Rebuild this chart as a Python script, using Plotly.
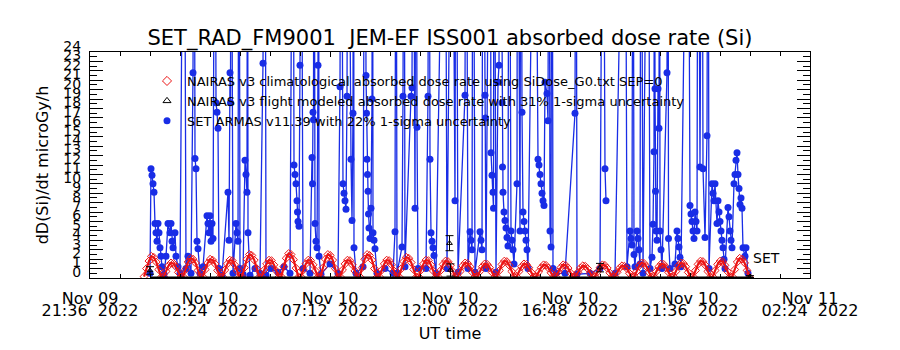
import pandas as pd
import plotly.graph_objects as go

# ---------------- data ----------------
base_time = pd.Timestamp("2022-11-09 21:36")
x_end_hours = 28.8

# NAIRAS v3 climatological dose rate (regular sampling)
clim_start = "2022-11-09 23:45:36"
clim_step_s = 353
nairas_clim = [
    0.15, 1.0, 1.8, 2.3, 2.2, 1.7, 0.9, 0.1,
    0.15, 0.7, 1.3, 1.6, 1.55, 1.2, 0.6, 0.1,
    0.15, 0.9, 1.7, 2.1, 2.0, 1.6, 0.8, 0.1,
    0.15, 0.9, 1.6, 2.0, 1.9, 1.5, 0.8, 0.1,
    0.15, 0.85, 1.5, 1.9, 1.85, 1.4, 0.75, 0.1,
    0.15, 1.1, 2.0, 2.5, 2.4, 1.9, 1.0, 0.1,
    0.15, 0.85, 1.5, 1.9, 1.85, 1.4, 0.75, 0.1,
    0.15, 1.2, 2.1, 2.6, 2.5, 1.95, 1.05, 0.1,
    0.15, 0.85, 1.5, 1.9, 1.85, 1.4, 0.75, 0.1,
    0.15, 1.1, 2.0, 2.5, 2.4, 1.9, 1.0, 0.1,
    0.15, 0.85, 1.5, 1.9, 1.85, 1.4, 0.75, 0.1,
    0.15, 1.1, 2.0, 2.5, 2.4, 1.9, 1.0, 0.1,
    0.15, 0.85, 1.5, 1.9, 1.85, 1.4, 0.75, 0.1,
    0.15, 1.0, 1.75, 2.2, 2.1, 1.65, 0.9, 0.1,
    0.15, 0.85, 1.5, 1.9, 1.85, 1.4, 0.75, 0.1,
    0.15, 0.8, 1.45, 1.8, 1.75, 1.35, 0.7, 0.1,
    0.15, 0.7, 1.3, 1.6, 1.55, 1.2, 0.6, 0.1,
    0.15, 0.7, 1.2, 1.5, 1.45, 1.1, 0.6, 0.1,
    0.15, 0.8, 1.45, 1.8, 1.75, 1.35, 0.7, 0.1,
    0.15, 0.7, 1.2, 1.5, 1.45, 1.1, 0.6, 0.1,
    0.15, 0.65, 1.1, 1.4, 1.35, 1.05, 0.55, 0.1,
    0.15, 0.65, 1.1, 1.4, 1.35, 1.05, 0.55, 0.1,
    0.15, 0.6, 1.05, 1.3, 1.25, 1.0, 0.5, 0.1,
    0.15, 0.65, 1.1, 1.4, 1.35, 1.05, 0.55, 0.1,
    0.15, 0.6, 1.05, 1.3, 1.25, 1.0, 0.5, 0.1,
    0.15, 0.7, 1.3, 1.6, 1.55, 1.2, 0.6, 0.1,
    0.15, 0.7, 1.2, 1.5, 1.45, 1.1, 0.6, 0.1,
    0.15, 0.7, 1.3, 1.6, 1.55, 1.2, 0.6, 0.1,
    0.15, 0.8, 1.45, 1.8, 1.75, 1.35, 0.7, 0.1,
    0.15, 0.8, 1.45, 1.8, 1.75, 1.35, 0.7, 0.1,
    0.15, 0.9, 1.7, 2.1, 2.0, 1.6, 0.8, 0.1,
]

# NAIRAS v3 flight modeled dose rate (hours after base_time)
flight_hours = [2.40, 14.38, 14.42, 20.40, 26.40]
flight_dose = [0.8, 3.7, 0.85, 1.1, 0.15]
flight_err = [0.4, 0.8, 0.65, 0.45, 0.1]
flight_zero_hours = [2.40, 26.40]
flight_zero_dose = [0.0, 0.0]

# SET ARMAS v11.39 measured dose rate (hours after base_time)
set_hours = [
    2.40, 2.44, 2.48, 2.52, 2.56, 2.60, 2.64, 2.68, 2.72, 2.76, 2.80, 2.84, 2.88, 2.96,
    3.04, 3.12, 3.20, 3.24, 3.28, 3.32, 3.40, 3.44, 3.52, 3.60, 3.76, 3.84, 3.92, 4.04,
    4.12, 4.16, 4.20, 4.24, 4.28, 4.32, 4.40, 4.52, 4.68, 4.72, 4.76, 4.80, 4.84, 4.88,
    4.92, 5.00, 5.04, 5.08, 5.12, 5.16, 5.28, 5.52, 5.56, 5.60, 5.62, 5.64, 5.72, 5.84,
    5.88, 5.92, 5.96, 6.00, 6.12, 6.20, 6.24, 6.28, 6.30, 6.32, 6.40, 6.60, 6.80, 6.92,
    7.00, 7.04, 7.24, 7.52, 7.76, 8.00, 8.12, 8.16, 8.20, 8.24, 8.28, 8.30, 8.32, 8.36,
    8.40, 8.44, 8.52, 8.80, 8.88, 8.90, 8.92, 8.94, 8.96, 9.00, 9.04, 9.08, 9.12, 9.14,
    9.16, 9.24, 9.60, 9.92, 10.00, 10.04, 10.12, 10.16, 10.20, 10.24, 10.28, 10.32, 10.44, 10.48,
    10.52, 10.54, 10.56, 10.64, 10.92, 11.00, 11.04, 11.06, 11.08, 11.10, 11.12, 11.14, 11.16, 11.20,
    11.24, 11.28, 11.30, 11.32, 11.36, 11.40, 11.48, 11.80, 12.12, 12.20, 12.24, 12.28, 12.48, 12.52,
    12.56, 12.60, 12.84, 12.88, 12.92, 13.00, 13.04, 13.08, 13.12, 13.44, 13.52, 13.56, 13.60, 13.64,
    13.68, 13.72, 13.76, 13.84, 14.20, 14.28, 14.48, 14.60, 14.64, 14.72, 15.00, 15.04, 15.12, 15.20,
    15.24, 15.28, 15.32, 15.40, 15.60, 15.64, 15.68, 15.72, 15.80, 15.82, 15.84, 16.00, 16.04, 16.08,
    16.12, 16.14, 16.16, 16.24, 16.32, 16.36, 16.40, 16.48, 16.50, 16.52, 16.56, 16.60, 16.64, 16.68,
    16.72, 16.76, 16.84, 16.88, 16.92, 16.96, 17.08, 17.10, 17.20, 17.24, 17.28, 17.32, 17.36, 17.40,
    17.44, 17.48, 17.52, 17.80, 17.92, 17.96, 18.00, 18.04, 18.08, 18.12, 18.16, 18.20, 18.28, 18.32,
    18.36, 18.40, 18.44, 18.48, 18.52, 18.64, 19.00, 19.40, 19.44, 19.48, 20.00, 20.40, 20.52, 20.60,
    20.64, 20.70, 21.00, 21.40, 21.48, 21.60, 21.64, 21.68, 21.72, 21.76, 21.80, 21.88, 21.92, 21.96,
    22.00, 22.04, 22.12, 22.32, 22.40, 22.48, 22.52, 22.56, 22.58, 22.60, 22.62, 22.64, 22.68, 22.72,
    22.76, 22.78, 22.80, 22.84, 22.88, 23.08, 23.12, 23.14, 23.20, 23.40, 23.48, 23.52, 23.56, 23.60,
    23.64, 23.92, 24.00, 24.04, 24.08, 24.12, 24.16, 24.20, 24.24, 24.28, 24.32, 24.40, 24.48, 24.52,
    24.60, 24.68, 24.72, 24.76, 24.88, 24.92, 24.96, 25.00, 25.08, 25.12, 25.16, 25.20, 25.24, 25.28,
    25.32, 25.36, 25.40, 25.52, 25.56, 25.60, 25.64, 25.68, 25.76, 25.80, 25.84, 25.88, 25.92, 25.96,
    26.00, 26.04, 26.08, 26.12, 26.20, 26.24, 26.32,
]
set_dose = [
    0.5, 11.6, 10.9, 10.0, 9.1, 5.8, 4.8, 3.9, 5.8, 4.8, 3.2, 2.3, 1.2, 0.4,
    2.3, 5.8, 4.8, 5.8, 3.9, 3.2, 4.8, 2.3, 1.2, 0.5, 60, 1.0, 2.3, 0.5,
    21.8, 60, 12.7, 11.6, 3.9, 3.1, 0.5, 1.2, 6.6, 5.8, 4.8, 6.6, 3.9, 5.8,
    4.2, 60, 18.6, 17.6, 15.9, 1.0, 0.3, 9.1, 4.0, 21.8, 18.6, 60, 0.5, 5.8,
    4.8, 3.9, 60, 1.0, 0.4, 12.5, 11.0, 9.1, 60, 4.8, 0.3, 1.0, 0.5, 22.8,
    60, 0.3, 1.0, 0.6, 1.2, 0.5, 60, 12.0, 11.0, 10.0, 8.2, 7.0, 6.0, 5.5,
    22.6, 60, 1.0, 0.5, 12.8, 10.0, 17.6, 16.8, 60, 5.8, 3.9, 3.2, 22.6, 60,
    2.3, 0.4, 1.5, 0.5, 20.3, 60, 10.0, 9.0, 8.2, 7.3, 19.3, 60, 12.6, 6.1,
    17.5, 60, 3.2, 0.5, 1.2, 60, 21.5, 17.5, 12.6, 11.0, 9.2, 6.8, 5.3, 4.2,
    7.4, 19.0, 60, 4.8, 4.0, 3.1, 0.5, 1.0, 0.5, 4.9, 60, 0.5, 3.3, 19.3,
    60, 1.2, 19.3, 20.2, 60, 7.4, 60, 16.0, 1.0, 1.0, 19.3, 60, 12.6, 4.8,
    3.9, 3.2, 2.4, 0.5, 60, 1.0, 60, 8.2, 60, 0.6, 19.4, 60, 1.0, 4.9,
    4.0, 3.0, 60, 0.6, 4.9, 4.0, 3.0, 60, 19.4, 17.0, 1.0, 60, 13.3, 10.9,
    9.1, 7.4, 60, 0.6, 20.8, 22.6, 60, 18.6, 11.8, 9.1, 7.0, 6.1, 5.3, 4.3,
    3.4, 60, 5.0, 4.0, 3.0, 1.5, 10.0, 60, 5.0, 60, 17.6, 7.0, 6.0, 5.0,
    4.0, 3.0, 1.0, 60, 12.6, 12.0, 11.0, 10.0, 9.0, 8.2, 7.7, 20.8, 19.6, 16.7,
    60, 5.0, 3.3, 60, 1.0, 0.5, 0.5, 17.5, 60, 0.4, 0.5, 1.0, 60, 11.6,
    8.2, None, 0.5, 60, 1.2, 5.0, 4.2, 3.5, 60, 2.5, 1.2, 5.0, 4.2, 3.0,
    1.5, 60, 0.5, 60, 1.0, 2.2, 5.7, 13.4, 60, 20.1, 9.2, 5.0, 4.0, 20.1,
    15.9, 60, 5.0, 3.0, 1.0, 21.8, 60, 4.2, 1.0, 1.5, 5.0, 4.2, 3.3, 2.2,
    1.2, 60, 7.7, 6.8, 6.0, 5.0, 4.2, 7.0, 6.0, 5.0, 60, 11.8, 60, 11.6,
    4.3, 15.1, 60, 1.0, 10.0, 9.0, 8.2, 10.0, 5.8, 8.2, 7.0, 6.0, 5.0, 4.0,
    3.2, 2.0, 1.0, 7.5, 6.5, 5.0, 4.0, 3.2, 10.0, 11.0, 12.5, 13.3, 11.0, 9.5,
    7.8, 8.5, 7.4, 3.2, 2.3, 3.2, 0.5,
]

# axis ticks
x_tick_hours = [0.0, 4.8, 9.6, 14.4, 19.2, 24.0, 28.8]
x_tick_dates = ["Nov 09", "Nov 10", "Nov 10", "Nov 10", "Nov 10", "Nov 10", "Nov 11"]
x_tick_times = ["21:36  2022", "02:24  2022", "07:12  2022", "12:00  2022",
                "16:48  2022", "21:36  2022", "02:24  2022"]
y_tick_vals = list(range(0, 25))
y_tick_text = [str(v) for v in y_tick_vals]

legend_labels = [
    "NAIRAS v3 climatological absorbed dose rate using SiDose_G0.txt SEP=0",
    "NAIRAS v3 flight modeled absorbed dose rate with 31% 1-sigma uncertainty",
    "SET ARMAS v11.39 with 22% 1-sigma uncertainty",
]

# ---------------- helpers ----------------
def to_time(hours):
    return [base_time + pd.Timedelta(hours=h) for h in hours]

clim_times = pd.date_range(clim_start, periods=len(nairas_clim), freq=f"{clim_step_s}s")
x_range = [base_time, base_time + pd.Timedelta(hours=x_end_hours)]
x_ticks = to_time(x_tick_hours)

FONT = "DejaVu Sans"
BLUE = "rgb(25,45,230)"
RED = "rgb(235,20,20)"

fig = go.Figure()

# SET measurements (drawn first, under the model)
fig.add_trace(go.Scatter(
    x=to_time(set_hours), y=set_dose, mode="lines+markers",
    line=dict(color=BLUE, width=1.3), connectgaps=False,
    marker=dict(symbol="circle", size=7, color=BLUE),
    showlegend=False,
))

# NAIRAS climatological
fig.add_trace(go.Scatter(
    x=clim_times, y=nairas_clim, mode="lines+markers",
    line=dict(color=RED, width=2.2),
    marker=dict(symbol="diamond-open", size=6, color=RED, line=dict(width=1)),
    showlegend=False,
))

# NAIRAS flight model: zero baseline + points with error bars
fig.add_trace(go.Scatter(
    x=to_time(flight_zero_hours), y=flight_zero_dose, mode="lines",
    line=dict(color="black", width=3), showlegend=False,
))
fig.add_trace(go.Scatter(
    x=to_time(flight_hours), y=flight_dose, mode="markers",
    marker=dict(symbol="triangle-up-open", size=5, color="black"),
    error_y=dict(type="data", array=flight_err, color="black", thickness=1, width=4),
    showlegend=False,
))

# legend-only entries (symbols only); placed on x2 so that axis is drawn
fig.add_trace(go.Scatter(
    x=[None], y=[None], mode="markers", xaxis="x2",
    marker=dict(symbol="diamond-open", size=7, color=RED, line=dict(width=1)),
    name=legend_labels[0], legendrank=1,
))
fig.add_trace(go.Scatter(
    x=[None], y=[None], mode="markers", xaxis="x2",
    marker=dict(symbol="triangle-up-open", size=7, color="black"),
    name=legend_labels[1], legendrank=2,
))
fig.add_trace(go.Scatter(
    x=[None], y=[None], mode="markers", xaxis="x2",
    marker=dict(symbol="circle", size=7, color=BLUE),
    name=legend_labels[2], legendrank=3,
))

fig.add_annotation(
    x=base_time + pd.Timedelta(hours=26.45), y=2.1, xref="x", yref="y",
    text="SET", showarrow=False, xanchor="left", yanchor="middle",
    font=dict(family=FONT, size=14, color="black"),
)

fig.update_layout(
    width=900, height=350,
    margin=dict(l=90, r=90, t=52, b=72),
    paper_bgcolor="white", plot_bgcolor="white",
    font=dict(family=FONT, color="black"),
    title=dict(
        text="SET_RAD_FM9001  JEM-EF ISS001 absorbed dose rate (Si)",
        x=0.5, xanchor="center", y=1 - 38 / 350, yanchor="middle", yref="container",
        font=dict(family=FONT, size=21, color="black"),
    ),
    showlegend=True,
    legend=dict(
        x=(147 - 90) / 720, y=(278 - 66) / 226, xanchor="left", yanchor="top",
        bgcolor="rgba(0,0,0,0)", borderwidth=0,
        font=dict(family=FONT, size=13, color="black"),
        itemwidth=30, tracegroupgap=0,
    ),
    xaxis=dict(
        type="date", range=x_range,
        tickmode="array", tickvals=x_ticks, ticktext=x_tick_dates,
        ticks="inside", ticklen=5, tickcolor="black",
        minor=dict(ticks="inside", ticklen=4, tickcolor="black",
                   tick0=base_time, dtick=1.2 * 3600 * 1000),
        showline=True, linecolor="black", linewidth=1, mirror="ticks",
        showgrid=False, zeroline=False,
        tickfont=dict(family=FONT, size=16),
        ticklabelstandoff=6,
    ),
    xaxis2=dict(
        type="date", range=x_range, overlaying="x", anchor="y", side="bottom",
        tickmode="array", tickvals=x_ticks, ticktext=x_tick_times,
        ticks="", showline=False, showgrid=False, zeroline=False,
        tickfont=dict(family=FONT, size=16),
        ticklabelstandoff=21,
        title=dict(text="UT time", font=dict(family=FONT, size=16), standoff=8),
    ),
    yaxis=dict(
        range=[0, 24],
        tickmode="array", tickvals=y_tick_vals, ticktext=y_tick_text,
        ticks="inside", ticklen=13, tickcolor="black",
        minor=dict(ticks="inside", ticklen=7, tickcolor="black", dtick=0.5, tick0=0),
        showline=True, linecolor="black", linewidth=1, mirror="ticks",
        showgrid=False, zeroline=False,
        tickfont=dict(family=FONT, size=14),
        ticklabelstandoff=5, ticklabelshift=-6,
        title=dict(text="dD(Si)/dt microGy/h", font=dict(family=FONT, size=16), standoff=10),
    ),
)

fig.write_html("out.html")
